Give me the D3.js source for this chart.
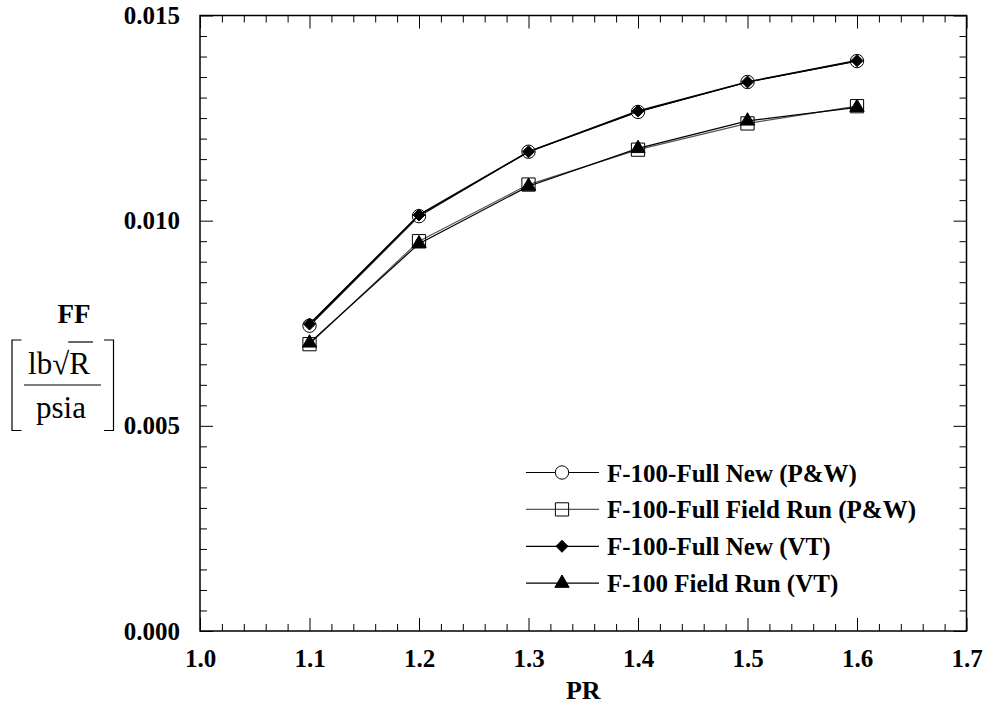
<!DOCTYPE html>
<html><head><meta charset="utf-8">
<script src="https://cdn.jsdelivr.net/npm/d3@7"></script>
<style>
body{margin:0;background:#fff;}
svg{display:block;}
text{font-family:"Liberation Serif","Times New Roman",serif;}
</style></head>
<body><svg id="c" width="988" height="707"></svg>
<script>
const pr = [1.1, 1.2, 1.3, 1.4, 1.5, 1.6];
const fullNewPW = [0.00744, 0.01011, 0.01168, 0.01265, 0.01338, 0.01389];
const fieldRunPW = [0.00699, 0.00950, 0.01088, 0.01173, 0.01237, 0.01279];
const fullNewVT = [0.00748, 0.01014, 0.01168, 0.01267, 0.01338, 0.01390];
const fieldRunVT = [0.00702, 0.00944, 0.01084, 0.01176, 0.01243, 0.01276];
const seriesNames = ["F-100-Full New (P&W)", "F-100-Full Field Run (P&W)", "F-100-Full New (VT)", "F-100 Field Run (VT)"];
const xMajor = [1.0, 1.1, 1.2, 1.3, 1.4, 1.5, 1.6, 1.7];
const yMajor = [0.000, 0.005, 0.010, 0.015];

const svg = d3.select("#c");
const L = 200, R = 966.5, T = 15.5, B = 631;
const x = d3.scaleLinear().domain([1.0, 1.7]).range([L, R]);
const y = d3.scaleLinear().domain([0, 0.015]).range([B, T]);

const xMinor = d3.range(0, 36).map(i => +(1.0 + i * 0.02).toFixed(2)).filter(v => !xMajor.some(m => Math.abs(m - v) < 1e-9));
const yMinor = d3.range(0, 31).map(i => +(i * 0.0005).toFixed(4)).filter(v => !yMajor.some(m => Math.abs(m - v) < 1e-9));

function styleAxis(g){
  g.attr("font-family", null).attr("font-size", null);
  g.select(".domain").remove();
  g.selectAll(".tick line").attr("stroke", "#000").attr("stroke-width", 1);
  g.selectAll(".tick text").attr("font-size", 25).attr("font-weight", "bold").attr("fill", "#000")
   .style("font-family", '"Liberation Serif","Times New Roman",serif');
}
// bottom
svg.append("g").attr("transform", `translate(0,${B})`)
  .call(d3.axisBottom(x).tickValues(xMajor).tickSizeInner(-13).tickSizeOuter(0).tickPadding(18.5).tickFormat(d3.format(".1f"))).call(styleAxis);
svg.append("g").attr("transform", `translate(0,${B})`)
  .call(d3.axisBottom(x).tickValues(xMinor).tickSizeInner(-7).tickSizeOuter(0).tickFormat("")).call(styleAxis);
// top
svg.append("g").attr("transform", `translate(0,${T})`)
  .call(d3.axisTop(x).tickValues(xMajor).tickSizeInner(-13).tickSizeOuter(0).tickFormat("")).call(styleAxis);
svg.append("g").attr("transform", `translate(0,${T})`)
  .call(d3.axisTop(x).tickValues(xMinor).tickSizeInner(-7).tickSizeOuter(0).tickFormat("")).call(styleAxis);
// left
svg.append("g").attr("transform", `translate(${L},0)`)
  .call(d3.axisLeft(y).tickValues(yMajor).tickSizeInner(-13).tickSizeOuter(0).tickPadding(20).tickFormat(d3.format(".3f"))).call(styleAxis);
svg.append("g").attr("transform", `translate(${L},0)`)
  .call(d3.axisLeft(y).tickValues(yMinor).tickSizeInner(-7).tickSizeOuter(0).tickFormat("")).call(styleAxis);
// right
svg.append("g").attr("transform", `translate(${R},0)`)
  .call(d3.axisRight(y).tickValues(yMajor).tickSizeInner(-13).tickSizeOuter(0).tickFormat("")).call(styleAxis);
svg.append("g").attr("transform", `translate(${R},0)`)
  .call(d3.axisRight(y).tickValues(yMinor).tickSizeInner(-7).tickSizeOuter(0).tickFormat("")).call(styleAxis);

// frame
svg.append("rect").attr("x", L).attr("y", T).attr("width", R - L).attr("height", B - T)
  .attr("fill", "none").attr("stroke", "#000").attr("stroke-width", 1.5);

// series definitions
const diamond = { draw(ctx, size){ const r = Math.sqrt(size) / 2; ctx.moveTo(0, -r); ctx.lineTo(r, 0); ctx.lineTo(0, r); ctx.lineTo(-r, 0); ctx.closePath(); } };
const series = [
  {name: seriesNames[0], vals: fullNewPW, color: "#000", lw: 1.2, sym: d3.symbolCircle, size: 141, fill: "#fff", stroke: "#000"},
  {name: seriesNames[1], vals: fieldRunPW, color: "#555", lw: 1.2, sym: d3.symbolSquare, size: 175, fill: "none", stroke: "#000"},
  {name: seriesNames[2], vals: fullNewVT, color: "#000", lw: 1.6, sym: diamond, size: 144, fill: "#000", stroke: "#000"},
  {name: seriesNames[3], vals: fieldRunVT, color: "#000", lw: 1.2, sym: d3.symbolTriangle, size: 88, fill: "#000", stroke: "#000"}
];
const line = d3.line().x(d => x(d[0])).y(d => y(d[1]));
series.forEach(s => {
  const pts = pr.map((p, i) => [p, s.vals[i]]);
  svg.append("path").datum(pts).attr("d", line).attr("fill", "none").attr("stroke", s.color).attr("stroke-width", s.lw);
  svg.append("g").selectAll("path").data(pts).join("path")
    .attr("transform", d => `translate(${x(d[0])},${y(d[1])})`)
    .attr("d", d3.symbol(s.sym, s.size)())
    .attr("fill", s.fill).attr("stroke", s.stroke).attr("stroke-width", 1);
});

// legend
const lg = svg.append("g");
series.forEach((s, i) => {
  const ly = 472.5 + i * 36.9;
  lg.append("line").attr("x1", 526).attr("x2", 599).attr("y1", ly).attr("y2", ly).attr("stroke", s.color).attr("stroke-width", 1.2);
  lg.append("path").attr("transform", `translate(562,${ly})`).attr("d", d3.symbol(s.sym, s.size)())
    .attr("fill", s.fill).attr("stroke", s.stroke).attr("stroke-width", 1);
  lg.append("text").attr("x", 607).attr("y", ly + 9).attr("font-size", 25).attr("font-weight", "bold").text(s.name);
});

// x-axis title
svg.append("text").attr("x", (L + R) / 2).attr("y", 699).attr("text-anchor", "middle")
  .attr("font-size", 26).attr("font-weight", "bold").text("PR");

// y-axis title
const yl = svg.append("g");
yl.append("text").attr("x", 74).attr("y", 323).attr("text-anchor", "middle").attr("font-size", 27).attr("font-weight", "bold").text("FF");
const num = yl.append("text").attr("x", 59).attr("y", 374).attr("text-anchor", "middle").attr("font-size", 31).text("lb\u221AR");
const nn = num.node();
try {
  const sqStart = nn.getStartPositionOfChar(2).x;
  const sqW = nn.getSubStringLength(2,1);
  const rEnd = nn.getEndPositionOfChar(3).x;
  yl.append("line").attr("x1", sqStart + sqW - 1).attr("x2", rEnd + 3).attr("y1", 342).attr("y2", 342).attr("stroke", "#000").attr("stroke-width", 1.2);
} catch(e) {}
yl.append("line").attr("x1", 24).attr("x2", 101).attr("y1", 385).attr("y2", 385).attr("stroke", "#000").attr("stroke-width", 1.2);
yl.append("text").attr("x", 61).attr("y", 418).attr("text-anchor", "middle").attr("font-size", 31).text("psia");
yl.append("path").attr("d", "M21.5,340 H12 V430.5 H21.5").attr("fill", "none").attr("stroke", "#000").attr("stroke-width", 1.2);
yl.append("path").attr("d", "M104,340 H113.5 V430.5 H104").attr("fill", "none").attr("stroke", "#000").attr("stroke-width", 1.2);
</script></body></html>
